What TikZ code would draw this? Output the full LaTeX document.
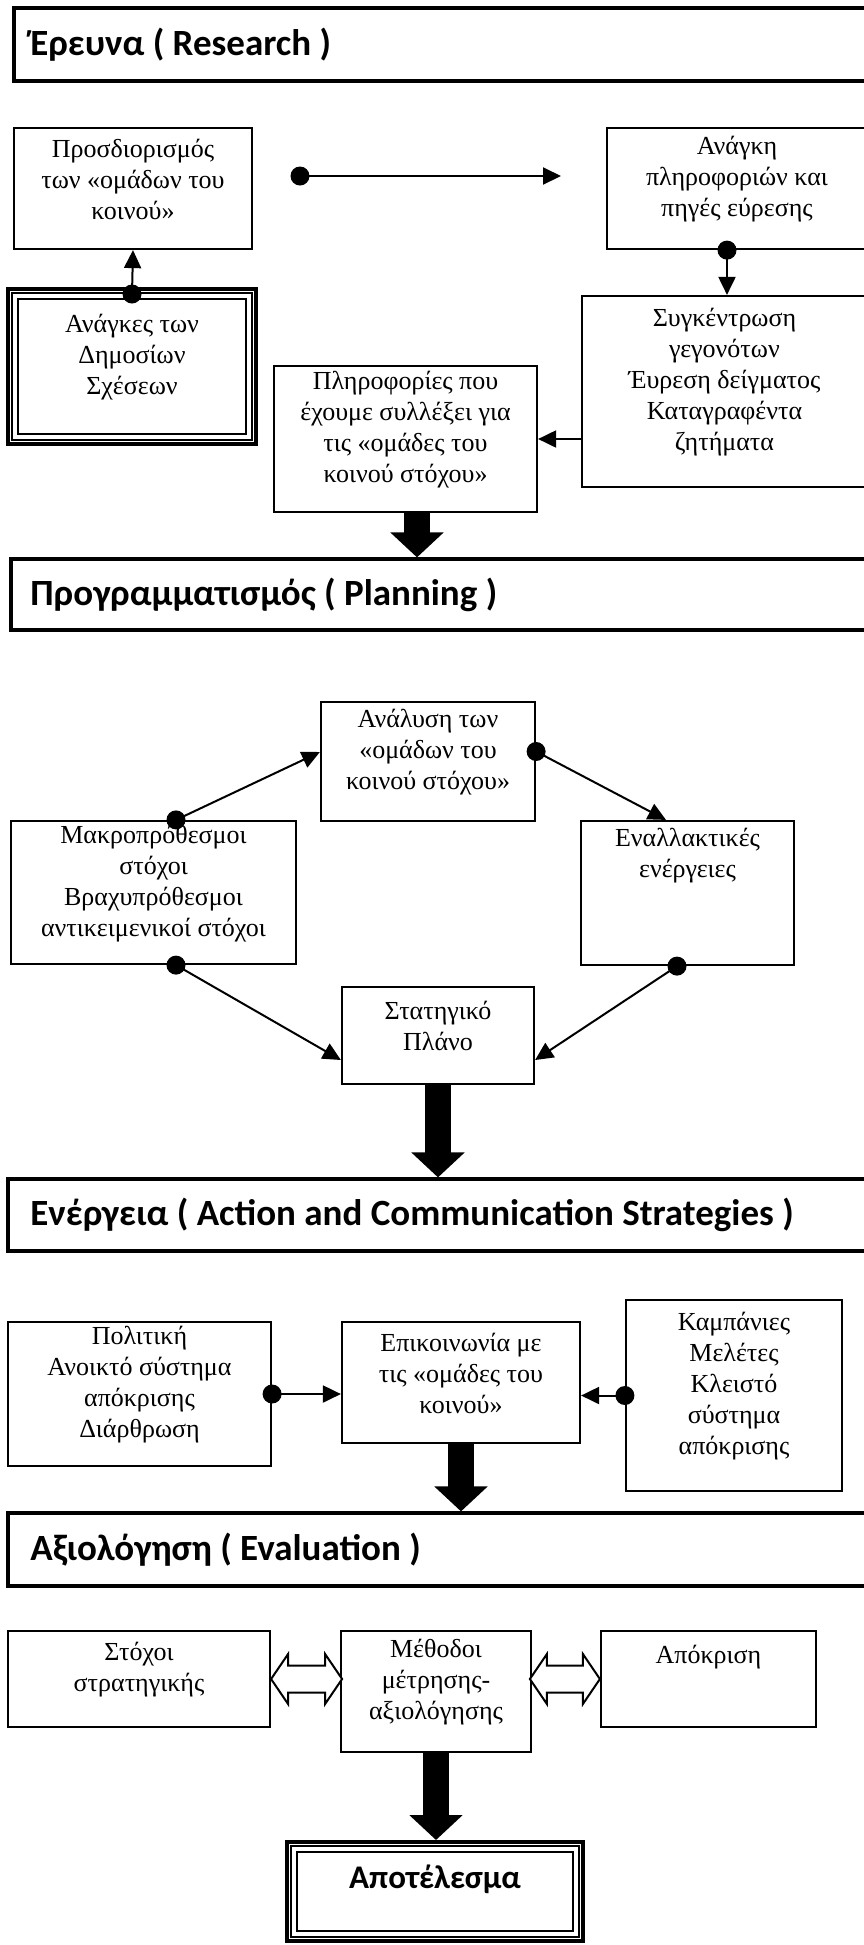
\documentclass[tikz,border=0pt]{standalone}
\usepackage{fontspec}
\setmainfont{Liberation Serif}
\newfontfamily\hdfont{Carlito}
\usetikzlibrary{arrows.meta,fit,calc}
\tikzset{
  box/.style={draw, line width=1.1pt, fill=white, inner sep=0pt, align=center,
    font=\fontsize{13pt}{15.5pt}\selectfont},
  hdr/.style={draw, line width=1.6pt, fill=white, inner sep=0pt},
  hdtext/.style={anchor=west, inner sep=0pt, font=\hdfont\bfseries\fontsize{18.5pt}{22pt}\selectfont},
  conn/.style={line width=1pt, -{Triangle[length=9pt,width=8.5pt]}},
  dotc/.style={fill=black},
  bigarrow/.style={line width=13pt, -{Triangle[length=12.5pt,width=26pt]}},
  hollow/.style={draw, line width=1pt, fill=white, line join=miter},
  frameA/.style={draw, line width=0.7pt},
  frameB/.style={draw, line width=1pt},
}
\begin{document}
\begin{tikzpicture}[x=0.5pt,y=-0.5pt]
\useasboundingbox (0,0) rectangle (863,1945);

% ---------- Research ----------
\node[hdr, fit={(14,8) (870,81)}] (h1) {};
\node[hdtext] (h1t) at (30,45) {Έρευνα ( Research )};

\node[box, fit={(14,128) (252,249)}] (A) {Προσδιορισμός\\των «ομάδων του\\κοινού»};
\node[box, fit={(607,128) (867,249)}] (C) {Ανάγκη\\πληροφοριών και\\πηγές εύρεσης};
\node[box, line width=2pt, fit={(8,289) (256,444)}] (B) {Ανάγκες των\\Δημοσίων\\Σχέσεων};
\draw[frameA] ([shift={(6,6)}]B.north west) rectangle ([shift={(-6,-6)}]B.south east);
\draw[frameB] ([shift={(12,12)}]B.north west) rectangle ([shift={(-12,-12)}]B.south east);
\node[box, fit={(582,296) (867,487)}] (D) {Συγκέντρωση\\γεγονότων\\Έυρεση δείγματος\\Καταγραφέντα\\ζητήματα};
\node[box, fit={(274,366) (537,512)}] (E) {Πληροφορίες που\\έχουμε συλλέξει για\\τις «ομάδες του\\κοινού στόχου»};

\coordinate (t1) at (300,176);
\coordinate (t2) at (561,176);
\draw[conn] (t1) -- (t2);
\fill[dotc] (t1) circle[radius=4.75pt];

\draw[conn] ([yshift=-3.5pt]B.north) -- (A.south);
\fill[dotc] ([yshift=-3.5pt]B.north) circle[radius=4.75pt];

\draw[conn] ([xshift=-5pt]C.south) -- ([xshift=-5pt]C.south |- D.north);
\fill[dotc] ([xshift=-5pt]C.south) circle[radius=4.75pt];

\draw[conn] (E.east -| D.west) -- (E.east);

% ---------- Planning ----------
\node[hdr, fit={(11,559) (870,630)}] (h2) {};
\node[hdtext] (h2t) at (30,594.5) {Προγραμματισμός ( Planning )};
\draw[bigarrow] ([xshift=5.75pt]E.south) -- ([xshift=5.75pt]E.south |- h2.north);

\node[box, fit={(321,702) (535,821)}] (F) {Ανάλυση των\\«ομάδων του\\κοινού στόχου»};
\node[box, fit={(11,821) (296,964)}] (G) {Μακροπρόθεσμοι\\στόχοι\\Βραχυπρόθεσμοι\\αντικειμενικοί στόχοι};
\node[box, fit={(581,821) (794,965)}] (H) {Εναλλακτικές\\ενέργειες\\~\\~};
\node[box, fit={(342,987) (534,1084)}] (I) {Στατηγικό\\Πλάνο\\[3pt]};

\draw[conn] ([xshift=11.25pt]G.north) -- ([yshift=4.75pt]F.west);
\fill[dotc] ([xshift=11.25pt]G.north) circle[radius=4.75pt];
\draw[conn] ([yshift=5pt]F.east) -- ([xshift=-10.75pt]H.north);
\fill[dotc] ([yshift=5pt]F.east) circle[radius=4.75pt];
\draw[conn] ([xshift=11.25pt]G.south) -- ([yshift=-12.25pt]I.west);
\fill[dotc] ([xshift=11.25pt]G.south) circle[radius=4.75pt];
\draw[conn] ([xshift=-5.25pt]H.south) -- ([yshift=-12.25pt]I.east);
\fill[dotc] ([xshift=-5.25pt]H.south) circle[radius=4.75pt];

% ---------- Action ----------
\node[hdr, fit={(8,1179) (870,1251)}] (h3) {};
\node[hdtext] (h3t) at (30,1215) {Ενέργεια ( Action and Communication Strategies )};
\draw[bigarrow] (I.south) -- (I.south |- h3.north);

\node[box, fit={(8,1322) (271,1466)}] (J) {Πολιτική\\Ανοικτό σύστημα\\απόκρισης\\Διάρθρωση};
\node[box, fit={(342,1322) (580,1443)}] (K) {Επικοινωνία με\\τις «ομάδες του\\κοινού»};
\node[box, fit={(626,1300) (842,1491)}] (L) {Καμπάνιες\\Μελέτες\\Κλειστό\\σύστημα\\απόκρισης\\[4pt]};

\draw[conn] (J.east) -- (J.east -| K.west);
\fill[dotc] (J.east) circle[radius=4.75pt];
\draw[conn] (L.west) -- (L.west -| K.east);
\fill[dotc] (L.west) circle[radius=4.75pt];

% ---------- Evaluation ----------
\node[hdr, fit={(8,1513) (870,1586)}] (h4) {};
\node[hdtext] (h4t) at (30,1549.5) {Αξιολόγηση ( Evaluation )};
\draw[bigarrow] (K.south) -- (K.south |- h4.north);

\node[box, fit={(8,1631) (270,1727)}] (M) {Στόχοι\\στρατηγικής\\[3pt]};
\node[box, fit={(341,1631) (531,1752)}] (N) {Μέθοδοι\\μέτρησης-\\αξιολόγησης};
\node[box, fit={(601,1631) (816,1727)}] (O) {Απόκριση\\~};

\draw[hollow] (M.east) -- ++(17,-25) -- ++(0,11.5) -- ++(37,0) -- ++(0,-11.5) -- ++(17,25)
  -- ++(-17,25) -- ++(0,-11.5) -- ++(-37,0) -- ++(0,11.5) -- cycle;
\draw[hollow] (O.west) -- ++(-17,-25) -- ++(0,11.5) -- ++(-36,0) -- ++(0,-11.5) -- ++(-17,25)
  -- ++(17,25) -- ++(0,-11.5) -- ++(36,0) -- ++(0,11.5) -- cycle;

\node[box, line width=2pt, fit={(287,1842) (583,1941)},
  font=\hdfont\bfseries\fontsize{16.5pt}{20pt}\selectfont] (P) {Αποτέλεσμα};
\draw[frameA] ([shift={(6,6)}]P.north west) rectangle ([shift={(-6,-6)}]P.south east);
\draw[frameB] ([shift={(12,12)}]P.north west) rectangle ([shift={(-12,-12)}]P.south east);
\draw[bigarrow] (N.south) -- (N.south |- P.north);
\end{tikzpicture}
\end{document}
